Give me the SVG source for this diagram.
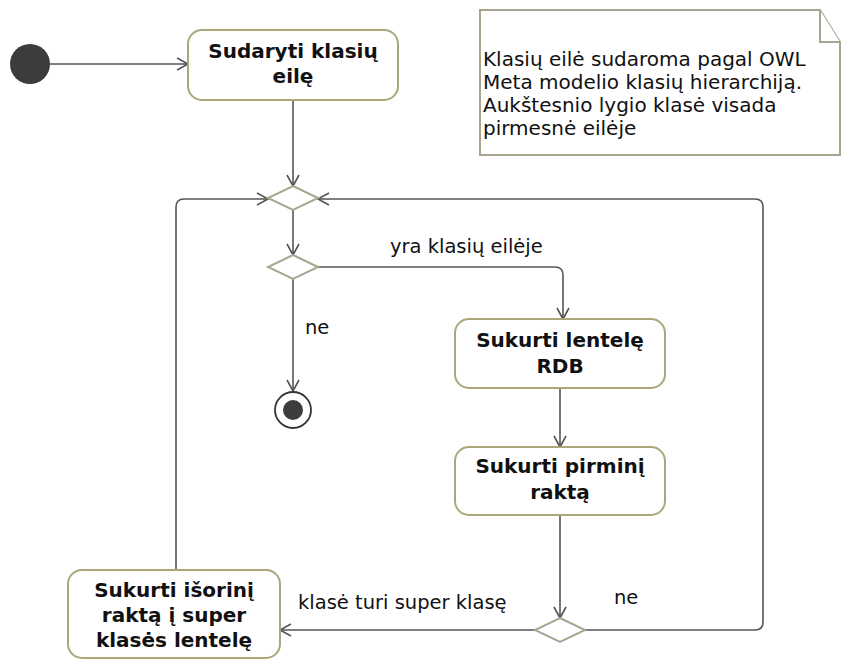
<svg xmlns="http://www.w3.org/2000/svg" width="841" height="660" viewBox="0 0 841 660">
  <style>
    .act { fill: #ffffff; stroke: #aaa77a; stroke-width: 2; }
    .dec { fill: #ffffff; stroke: #a8a690; stroke-width: 2; }
    .edge { fill: none; stroke: #555555; stroke-width: 1.6; }
    .bold { font-family: "DejaVu Sans", Verdana, sans-serif; font-weight: bold; font-size: 20px; fill: #111111; text-anchor: middle; }
    .lbl { font-family: "DejaVu Sans", Verdana, sans-serif; font-size: 19.5px; fill: #111111; }
    .notetext { font-family: "DejaVu Sans", Verdana, sans-serif; font-size: 20px; fill: #111111; }
    .note { fill: #ffffff; stroke: #a8a490; stroke-width: 2; }
  </style>
  <defs>
    <marker id="open" markerUnits="userSpaceOnUse" markerWidth="14" markerHeight="14" viewBox="0 0 14 14" refX="12" refY="7" orient="auto">
      <path d="M1,1 L12,7 L1,13" fill="none" stroke="#555555" stroke-width="1.6"/>
    </marker>
  </defs>

  <rect width="841" height="660" fill="#ffffff"/>

  <!-- comment note with folded corner -->
  <g id="note">
    <path class="note" d="M480,10 L820,10 L840,42 L840,155 L480,155 Z"/>
    <path class="note" d="M820,10 L820,42 L840,42" fill="none"/>
    <text class="notetext" x="483" y="66">Klasių eilė sudaroma pagal OWL</text>
    <text class="notetext" x="483" y="89">Meta modelio klasių hierarchiją.</text>
    <text class="notetext" x="483" y="112">Aukštesnio lygio klasė visada</text>
    <text class="notetext" x="483" y="135">pirmesnė eilėje</text>
  </g>

  <!-- control flows and guards -->
  <g id="connectors">
    <path class="edge" d="M50,64 L188,64" marker-end="url(#open)"/>
    <path class="edge" d="M293,100 L293,186" marker-end="url(#open)"/>
    <path class="edge" d="M293,210 L293,255" marker-end="url(#open)"/>
    <path class="edge" d="M318,267 L555,267 Q563,267 563,275 L563,319" marker-end="url(#open)"/>
    <path class="edge" d="M293,279 L293,391" marker-end="url(#open)"/>
    <path class="edge" d="M560,388 L560,447" marker-end="url(#open)"/>
    <path class="edge" d="M560,515 L560,618" marker-end="url(#open)"/>
    <path class="edge" d="M535,630 L280,630" marker-end="url(#open)"/>
    <path class="edge" d="M585,630 L755,630 Q763,630 763,622 L763,207 Q763,199 755,199 L318,199" marker-end="url(#open)"/>
    <path class="edge" d="M176,570 L176,207 Q176,199 184,199 L268,199" marker-end="url(#open)"/>
    <text class="lbl" x="390" y="253">yra klasių eilėje</text>
    <text class="lbl" x="305" y="334">ne</text>
    <text class="lbl" x="298" y="609">klasė turi super klasę</text>
    <text class="lbl" x="614" y="604">ne</text>
  </g>

  <g id="start">
    <circle cx="30" cy="64" r="20" fill="#3c3c3c"/>
  </g>

  <g id="sudaryti">
    <rect class="act" x="188" y="30" width="210" height="70" rx="14"/>
    <text class="bold" x="293" y="58">Sudaryti klasių</text>
    <text class="bold" x="293" y="83">eilę</text>
  </g>

  <g id="merge">
    <path class="dec" d="M293,186 L318,198 L293,210 L268,198 Z"/>
  </g>

  <g id="decision1">
    <path class="dec" d="M293,255 L318,267 L293,279 L268,267 Z"/>
  </g>

  <g id="end">
    <circle cx="293" cy="410" r="18" fill="#ffffff" stroke="#333333" stroke-width="1.8"/>
    <circle cx="293" cy="410" r="10" fill="#3c3c3c"/>
  </g>

  <g id="lentele">
    <rect class="act" x="455" y="319" width="210" height="69" rx="14"/>
    <text class="bold" x="560" y="347">Sukurti lentelę</text>
    <text class="bold" x="560" y="373">RDB</text>
  </g>

  <g id="raktas">
    <rect class="act" x="455" y="447" width="210" height="68" rx="14"/>
    <text class="bold" x="560" y="473">Sukurti pirminį</text>
    <text class="bold" x="560" y="499">raktą</text>
  </g>

  <g id="decision2">
    <path class="dec" d="M560,618 L585,630 L560,642 L535,630 Z"/>
  </g>

  <g id="isorinis">
    <rect class="act" x="68" y="570" width="212" height="88" rx="14"/>
    <text class="bold" x="174" y="597">Sukurti išorinį</text>
    <text class="bold" x="174" y="622">raktą į super</text>
    <text class="bold" x="174" y="647">klasės lentelę</text>
  </g>
</svg>
